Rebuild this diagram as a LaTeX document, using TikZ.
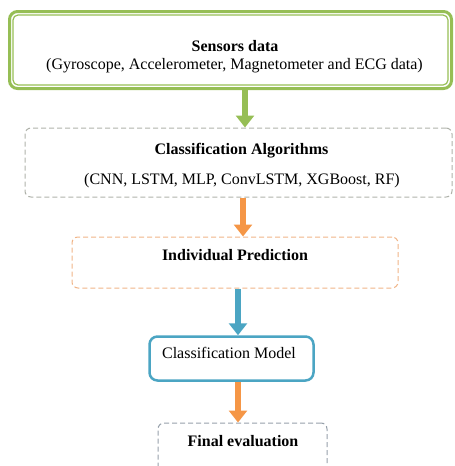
\documentclass[tikz,border=0pt]{standalone}
\usepackage{fontspec}
\setmainfont{Liberation Serif}
\usetikzlibrary{arrows.meta}
\definecolor{leaf}{RGB}{150,190,85}
\definecolor{peach}{RGB}{245,150,70}
\definecolor{lightpeach}{RGB}{240,180,135}
\definecolor{teal}{RGB}{75,165,195}
\definecolor{mist}{RGB}{175,178,170}
\definecolor{slate}{RGB}{150,160,170}
\begin{document}
\begin{tikzpicture}[x=1pt,y=-1pt,
  every node/.style={font=\fontsize{16}{19}\selectfont, inner sep=0pt},
  box/.style={draw, rectangle, rounded corners=6pt, line width=1pt, dash pattern=on 5pt off 3pt},
  flow/.style={line width=6pt, -{Triangle[width=18pt,length=12pt]}}]
\useasboundingbox (0,0) rectangle (455,466);

\node[draw=leaf, rectangle, rounded corners=8pt, line width=3pt, minimum width=442pt, minimum height=77pt] (sensors) at (230.5,50) {};
\node[box, draw=mist, minimum width=427pt, minimum height=69pt] (algos) at (238.5,162.5) {};
\node[box, draw=lightpeach, minimum width=326pt, minimum height=51pt] (pred) at (235,262.5) {};
\node[draw=teal, rectangle, rounded corners=8pt, line width=2.5pt, minimum width=164pt, minimum height=44pt] (model) at (231.5,358.5) {};
\node[box, draw=slate, minimum width=169pt, minimum height=66pt] (final) at (242.5,456) {};

% inner line of the double frame
\draw[leaf, line width=1.2pt, rounded corners=5pt] ([shift={(5pt,-5pt)}]sensors.north west) rectangle ([shift={(-5pt,5pt)}]sensors.south east);

\node[font=\fontsize{16}{19}\selectfont\bfseries] (sensorsT) at (235,46) {Sensors data};
\node (sensorsS) at (234.5,66) {(Gyroscope, Accelerometer, Magnetometer and ECG data)};
\node[font=\fontsize{16}{19}\selectfont\bfseries] (algosT) at (241.5,151) {Classification Algorithms};
\node (algosS) at (242,181) {(CNN, LSTM, MLP, ConvLSTM, XGBoost, RF)};
\node[font=\fontsize{16}{19}\selectfont\bfseries] (predT) at (235,255) {Individual Prediction};
\node (modelT) at (229,353) {Classification Model};
\node[font=\fontsize{16}{19}\selectfont\bfseries] (finalT) at (243,441) {Final evaluation};

\draw[flow, leaf] ([xshift=14.5pt]sensors.south) -- ([xshift=6.5pt]algos.north);
\draw[flow, peach] ([xshift=4.5pt]algos.south) -- ([xshift=8pt]pred.north);
\draw[flow, teal] ([xshift=3pt]pred.south) -- ([xshift=6.5pt]model.north);
\draw[flow, peach] ([xshift=6.5pt]model.south) -- ([xshift=-4.5pt]final.north);
\end{tikzpicture}
\end{document}
